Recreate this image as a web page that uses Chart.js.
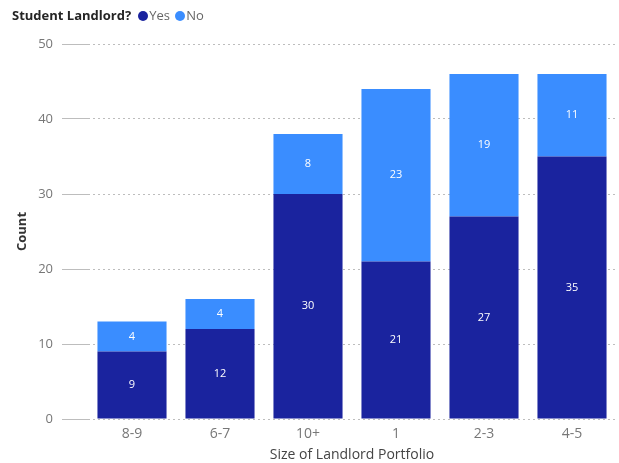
<!DOCTYPE html>
<html lang="en">
<head>
    <meta charset="UTF-8">
    <title>Student Landlord by Portfolio Size</title>
    <script src="https://cdn.jsdelivr.net/npm/chart.js"></script>
    <style>
        body { margin: 0; background: #fff; font-family: "Open Sans", sans-serif; }
        #wrap { position: relative; width: 619px; height: 463px; }
        #legend { position: absolute; left: 12px; top: 6px; font-size: 13px; color: #666; white-space: nowrap; }
        #legend b { color: #252525; margin-right: 5px; }
        .dot { display: inline-block; width: 10px; height: 10px; border-radius: 50%; margin: 0 1px 0 2px; vertical-align: -1px; }
    </style>
</head>
<body>
    <div id="wrap">
        <canvas id="chart" width="619" height="463"></canvas>
        <div id="legend">
            <b>Student Landlord?</b><span class="dot" style="background:#1a239e"></span>Yes <span class="dot" style="background:#3a8dff"></span>No
        </div>
    </div>
    <script>
        // chart data
        const categories = ['8-9', '6-7', '10+', '1', '2-3', '4-5'];
        const yesValues = [9, 12, 30, 21, 27, 35];
        const noValues = [4, 4, 8, 23, 19, 11];
        const yTicks = [0, 10, 20, 30, 40, 50];

        // white value labels in the middle of each segment
        const segmentLabels = {
            id: 'segmentLabels',
            afterDatasetsDraw(chart) {
                const ctx = chart.ctx;
                ctx.save();
                ctx.fillStyle = '#ffffff';
                ctx.font = '11px "Open Sans", sans-serif';
                ctx.textAlign = 'center';
                ctx.textBaseline = 'middle';
                chart.data.datasets.forEach((ds, i) => {
                    chart.getDatasetMeta(i).data.forEach((bar, j) => {
                        const p = bar.getCenterPoint();
                        ctx.fillText(ds.data[j], p.x, p.y);
                    });
                });
                ctx.restore();
            }
        };

        new Chart(document.getElementById('chart'), {
            type: 'bar',
            data: {
                labels: categories,
                datasets: [
                    { label: 'Yes', data: yesValues, backgroundColor: '#1a239e', barPercentage: 0.785, categoryPercentage: 1 },
                    { label: 'No', data: noValues, backgroundColor: '#3a8dff', barPercentage: 0.785, categoryPercentage: 1 }
                ]
            },
            options: {
                responsive: false,
                animation: false,
                layout: { padding: { top: 44, right: 3, left: 0, bottom: 0 } },
                plugins: {
                    legend: { display: false },
                    tooltip: { enabled: false }
                },
                scales: {
                    x: {
                        stacked: true,
                        grid: { display: false, drawTicks: false },
                        border: { display: false },
                        ticks: { color: '#777', font: { size: 14, family: '"Open Sans", sans-serif' }, padding: 7 },
                        title: {
                            display: true,
                            text: 'Size of Landlord Portfolio',
                            color: '#444',
                            font: { size: 14, family: '"Open Sans", sans-serif' },
                            padding: { top: 0, bottom: 0 }
                        },
                        afterFit(scale) { scale.height = 44; }
                    },
                    y: {
                        stacked: true,
                        min: 0,
                        max: 50,
                        afterBuildTicks(scale) { scale.ticks = yTicks.map(v => ({ value: v })); },
                        grid: { color: '#bdbdbd', tickLength: 26, tickColor: '#bdbdbd' },
                        border: { display: false, dash: [2, 3] },
                        ticks: { color: '#777', font: { size: 13, family: '"Open Sans", sans-serif' }, padding: 9 },
                        title: {
                            display: true,
                            text: 'Count',
                            color: '#333',
                            font: { size: 13, weight: 'bold', family: '"Open Sans", sans-serif' },
                            padding: { top: 14, bottom: 0 }
                        },
                        afterFit(scale) { scale.width = 88; }
                    }
                }
            },
            plugins: [segmentLabels]
        });
    </script>
</body>
</html>
